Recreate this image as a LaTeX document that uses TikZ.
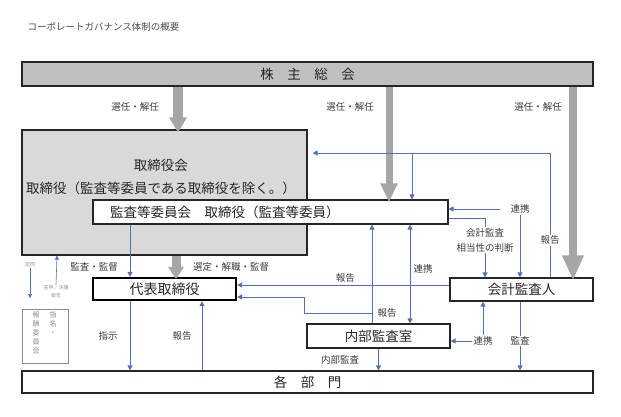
\documentclass[tikz,border=0pt]{standalone}
\usepackage{fontspec}
\setmainfont{Noto Sans CJK JP}
\usetikzlibrary{arrows.meta,positioning}
\definecolor{lineblue}{RGB}{80,114,182}
\definecolor{arrowgray}{RGB}{166,166,166}
\definecolor{topgray}{RGB}{192,192,192}
\definecolor{boardgray}{RGB}{217,217,217}
\definecolor{txtgray}{RGB}{60,60,60}

\begin{document}
\begin{tikzpicture}[x=1pt, y=-1pt,
  box/.style = {draw=black!85, line width=1.1pt, minimum height=24pt, inner sep=0pt, text=black!85, font=\fontsize{13.5}{16}\selectfont},
  lbl/.style = {text=txtgray, font=\fontsize{9.5}{15}\selectfont, inner sep=1pt},
  tinylbl/.style = {text=black!40, font=\fontsize{5}{8}\selectfont, inner sep=0.5pt, align=center},
  vertlbl/.style = {text=black!45, font=\fontsize{7}{9}\selectfont, inner sep=0pt, align=center, anchor=north},
  blueline/.style = {draw=lineblue, line width=0.9pt},
  bluearrow/.style = {blueline, -{Triangle[length=5pt, width=5pt]}},
  grayarrow/.style = {draw=arrowgray, line width=#1}]
\useasboundingbox (0,0) rectangle (621,416);

\node[anchor = west, text=black!70, font=\fontsize{9.5}{11}\selectfont] (title) at (24,27) {コーポレートガバナンス体制の概要};

\node[box, fill=topgray, minimum width=571pt] (soukai) at (307.5,74) {株　主　総　会};
\node[box, fill=boardgray, minimum width=285pt, minimum height=125pt] (board) at (164.5,192.5) {};
\node[box, draw=none, fill=none, align=center, font=\fontsize{13.5}{23}\selectfont] (boardtext) at (161,177) {取締役会\\取締役（監査等委員である取締役を除く。）};
\node[box, fill=white, minimum width=355pt, inner xsep=17pt, text width=321pt, align=left] (auditcom) at (270.5,212) {監査等委員会　取締役（監査等委員）};
\node[box, line width=2.2pt, draw=black, minimum width=143pt, minimum height=22pt, font=\fontsize{14}{16}\selectfont] (ceo) at (164.5,289) {代表取締役};
\node[box, minimum width=143pt, minimum height=23pt] (auditor) at (521.5,289.5) {会計監査人};
\node[box, minimum width=143pt] (internal) at (378.5,336) {内部監査室};
\node[box, minimum width=571pt, minimum height=22pt] (depts) at (307.5,382) {各　部　門};
\node[draw=black!45, line width=0.6pt, minimum width=46pt, minimum height=54pt] (nomcom) at (45,336) {};
\node[vertlbl] (nomcomr) at (53,311) {指\\名\\・};
\node[vertlbl] (nomcoml) at (36,311) {報\\酬\\委\\員\\会};

\draw[grayarrow=10pt, -{Triangle[length=15pt, width=17pt]}] (178,0 |- soukai.south) -- ([yshift=-3pt]178,0 |- board.north);
\draw[grayarrow=7pt, -{Triangle[length=19pt, width=16pt]}] (389,0 |- soukai.south) -- ([yshift=-3pt]389,0 |- auditcom.north);
\draw[grayarrow=8pt, -{Triangle[length=25pt, width=20pt]}] (573,0 |- soukai.south) -- ([yshift=-3pt]573,0 |- auditor.north);
\draw[grayarrow=9pt, -{Triangle[length=12pt, width=15pt]}] (176,0 |- board.south) -- ([yshift=-2pt]176,0 |- ceo.north);
\node[lbl] (elect1) at (135,107) {選任・解任};
\node[lbl] (elect2) at (350,107) {選任・解任};
\node[lbl] (elect3) at (538,107) {選任・解任};
\node[lbl] (appoint) at (231,267) {選定・解職・監督};

\coordinate (repcorner) at (550,153);
\draw[bluearrow] (550,0 |- auditor.north) -- node[lbl, fill=white, pos=0.3] (rep1) {報告} (repcorner) -- ([xshift=5pt]board.east |- repcorner);
\draw[bluearrow] (412,0 |- repcorner) -- (412,0 |- auditcom.north);

\draw[bluearrow] (130,0 |- auditcom.south) -- (130,0 |- ceo.north);
\node[lbl] (supervise) at (94,267) {監査・監督};

\draw[bluearrow] (auditor.west |- 0,285) -- node[lbl, above=1pt, pos=0.49] (rep2) {報告} (ceo.east |- 0,285);

\coordinate (intbranch) at (372,313);
\coordinate (ceoturn) at (304,297);
\draw[bluearrow] (372,0 |- internal.north) -- (372,0 |- auditcom.south);
\draw[bluearrow] (intbranch) -| (ceoturn) -- (ceo.east |- ceoturn);
\node[lbl] (rep3) at (387,313) {報告};
\draw[blueline, {Triangle[length=5pt, width=5pt]}-{Triangle[length=5pt, width=5pt]}] (410,0 |- auditcom.south) -- (410,0 |- internal.north);
\node[lbl] (link1) at (423,269) {連携};

\node[lbl] (link2) at (520,209) {連携};
\draw[bluearrow] ([xshift=-9pt]link2.west) -- (auditcom.east |- link2);
\draw[bluearrow] (link2.south) -- (link2.south |- auditor.north);
\node[lbl, align=center] (fitness) at (485,240) {会計監査\\相当性の判断};
\draw[blueline] (auditcom.east |- 0,218) -| (fitness.north);
\draw[bluearrow] (fitness.south) -- (fitness.south |- auditor.north);

\node[lbl] (link3) at (483,341) {連携};
\draw[bluearrow] (link3.west) -- (internal.east |- link3);
\draw[bluearrow] (link3.north) -- (link3.north |- auditor.south);
\draw[bluearrow] (520,0 |- auditor.south) -- node[lbl, fill=white, pos=0.57] (audit) {監査} (520,0 |- depts.north);

\draw[bluearrow] (internal.south) -- (internal.south |- depts.north);
\node[lbl] (intaudit) at (340,360) {内部監査};

\draw[bluearrow] (130,0 |- ceo.south) -- node[lbl, left=11pt] (order) {指示} (130,0 |- depts.north);
\draw[bluearrow] (202,0 |- depts.north) -- node[lbl, left=9pt] (rep4) {報告} (202,0 |- ceo.south);

\node[tinylbl] (consult) at (30,265) {諮問};
\coordinate (consultend) at (30,298);
\draw[blueline, line width=0.6pt, -{Triangle[length=4pt, width=4pt]}] (consult.south) -- (consultend);
\node[tinylbl] (answer) at (56,292) {答申／決議\\報告};
\draw[blueline, line width=0.6pt, -{Triangle[length=4pt, width=4pt]}] (answer.north) -- (57,0 |- board.south);
\end{tikzpicture}
\end{document}
